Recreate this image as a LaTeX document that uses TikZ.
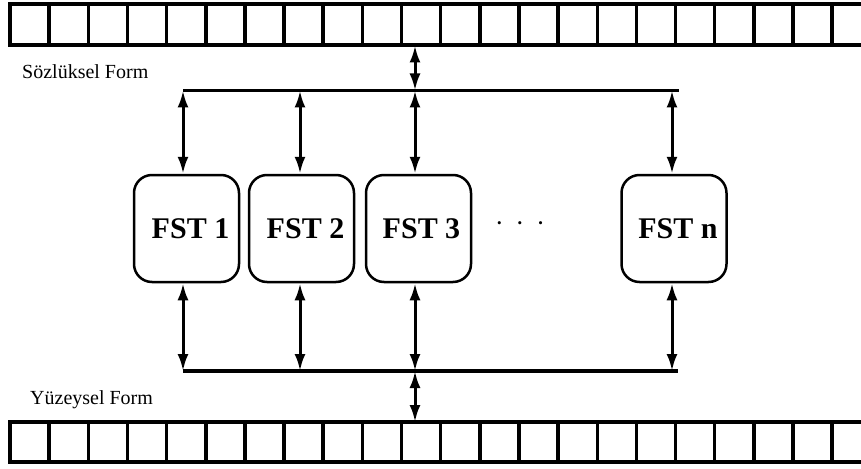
\documentclass[tikz,border=0pt]{standalone}
\usepackage{fontspec}
\setmainfont{Liberation Serif}
\usetikzlibrary{arrows.meta}
\begin{document}
\begin{tikzpicture}[x=1pt,y=-1pt,
  tapeline/.style={line width=4pt},
  cellline/.style={line width=3.5pt},
  bus/.style={line width=3.5pt},
  link/.style={line width=3pt,{Latex[length=17pt,width=11pt]}-{Latex[length=17pt,width=11pt]}},
  fstbox/.style={draw,line width=2.5pt,rounded corners=18pt,minimum width=105pt,minimum height=107pt,inner sep=0pt,
    font=\fontsize{30}{33}\selectfont\bfseries},
  formlabel/.style={anchor=west,inner sep=0pt,font=\fontsize{20}{22}\selectfont}]
\useasboundingbox (0,0) rectangle (861,468);
\clip (0,0) rectangle (861,468);
% tapes
\draw[tapeline] (880,3.7) -- (10,3.7) -- (10,45.5) -- (880,45.5);
\draw[tapeline] (880,422) -- (10,422) -- (10,461.5) -- (880,461.5);
\foreach \k in {1,...,21}{
  \draw[cellline] ({10+39.15*\k},3.7) -- ({10+39.15*\k},45.5);
  \draw[cellline] ({10+39.15*\k},422) -- ({10+39.15*\k},461.5);
}
% labels
\node[formlabel] (lex) at (22,72) {Sözlüksel Form};
\node[formlabel] (surf) at (30,400) {Yüzeysel Form};
% tape contact points
\coordinate (ttape) at (415,45.5);
\coordinate (btape) at (415,422);
% buses
\coordinate (tbL) at (183,90.5);
\coordinate (tbR) at (679,90.5);
\coordinate (bbL) at (183,371);
\coordinate (bbR) at (678,371);
\draw[bus] (tbL) -- (tbR);
\draw[bus] (bbL) -- (bbR);
% FST boxes
\node[fstbox] (f1) at (186.5,228.5) {\hspace{8pt}FST 1};
\node[fstbox] (f2) at (301.5,228.5) {\hspace{8pt}FST 2};
\node[fstbox] (f3) at (418.5,228.5) {\hspace{6pt}FST 3};
\node[fstbox] (fn) at (674,228.5) {\hspace{8pt}FST n};
\node[font=\fontsize{13}{15}\selectfont,inner sep=0pt] (dots) at (520,225) {\textbullet\hspace{16pt}\textbullet\hspace{16pt}\textbullet};
% coordinates on buses
\coordinate (t1) at (183,90.5);
\coordinate (t2) at (300,90.5);
\coordinate (t3) at (415,90.5);
\coordinate (tn) at (672,90.5);
\coordinate (b1) at (183,371);
\coordinate (b2) at (300,371);
\coordinate (b3) at (415,371);
\coordinate (bn) at (672,371);
% links
\draw[link] (ttape) -- (t3);
\draw[link] (b3) -- (btape);
\draw[link] (t1) -- (t1 |- f1.north);
\draw[link] (t2) -- (t2 |- f2.north);
\draw[link] (t3) -- (t3 |- f3.north);
\draw[link] (tn) -- (tn |- fn.north);
\draw[link] (b1 |- f1.south) -- (b1);
\draw[link] (b2 |- f2.south) -- (b2);
\draw[link] (b3 |- f3.south) -- (b3);
\draw[link] (bn |- fn.south) -- (bn);
\end{tikzpicture}
\end{document}
